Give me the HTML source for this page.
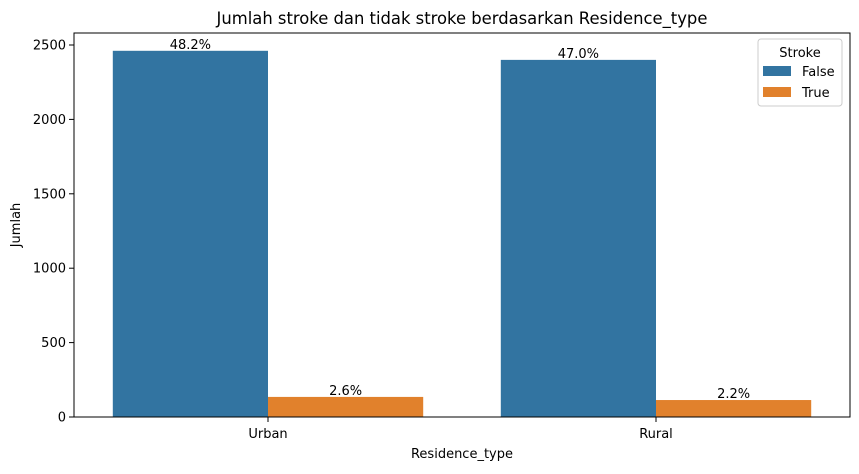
<!DOCTYPE html>
<html><head><meta charset="utf-8"><style>
body{margin:0;background:#fff;font-family:"DejaVu Sans","Liberation Sans",sans-serif}
</style></head><body>
<svg id="c" width="859" height="470" xmlns="http://www.w3.org/2000/svg" font-family="DejaVu Sans, Liberation Sans, sans-serif">
<text x="462" y="24" text-anchor="middle" font-size="16.4">Jumlah stroke dan tidak stroke berdasarkan Residence_type</text>
<g id="marks"></g>
<rect x="74" y="33" width="776" height="384" fill="none" stroke="#000" stroke-width="1"/>
<text x="462" y="458" text-anchor="middle" font-size="13">Residence_type</text>
<text transform="translate(20,225) rotate(-90)" text-anchor="middle" font-size="13">Jumlah</text>
<g>
<rect x="758" y="39" width="84" height="67" rx="3" fill="#fff" stroke="#ccc"/>
<text x="800" y="57" text-anchor="middle" font-size="13">Stroke</text>
<rect x="763" y="66" width="28" height="10" fill="#3274a1"/>
<text x="802" y="76" font-size="13">False</text>
<rect x="763" y="87" width="28" height="10" fill="#e1812c"/>
<text x="802" y="97" font-size="13">True</text>
</g>
</svg>
<script>
const categories=["Urban","Rural"];
const falseValues=[2461,2400];
const trueValues=[135,114];
const falseLabels=["48.2%","47.0%"];
const trueLabels=["2.6%","2.2%"];
const yTicks=[0,500,1000,1500,2000,2500];
const NS="http://www.w3.org/2000/svg";
const g=document.getElementById("marks");
const L=74,R=850,B=417;
const y=v=>B-v*0.1488;
const band=(R-L)/categories.length;
const xc=i=>L+band*(i+0.5);
const bw=band*0.4;
function mk(t,a){const e=document.createElementNS(NS,t);for(const k in a)e.setAttribute(k,a[k]);g.appendChild(e);return e;}
yTicks.forEach(v=>{
 const l=mk("line",{x1:L-5,x2:L,y1:y(v),y2:y(v),stroke:"#000"});
 
 
 const t=mk("text",{x:L-8,y:y(v)+4.5,"text-anchor":"end","font-size":"13"});t.textContent=v;
 
 
});
categories.forEach((c,i)=>{
 const l=mk("line",{x1:xc(i),x2:xc(i),y1:B,y2:B+5,stroke:"#000"});
 
 
 const t=mk("text",{x:xc(i),y:B+21,"text-anchor":"middle","font-size":"13"});t.textContent=c;
 
 
 [[falseValues,falseLabels,"#3274a1",-bw,"false"],[trueValues,trueLabels,"#e1812c",0,"true"]].forEach(([vals,labs,col,off,nm])=>{
  const r=mk("rect",{x:xc(i)+off,y:y(vals[i]),width:bw,height:B-y(vals[i]),fill:col});
  
  
  const tt=mk("text",{x:xc(i)+off+bw/2,y:y(vals[i])-2,"text-anchor":"middle","font-size":"13"});tt.textContent=labs[i];
  
  
 });
});
</script>
</body></html>
